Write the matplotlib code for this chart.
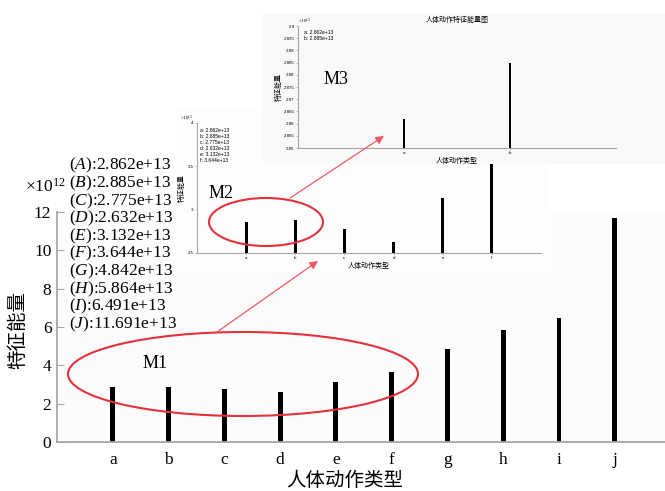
import matplotlib
matplotlib.use("Agg")
import matplotlib.pyplot as plt
from matplotlib.patches import Ellipse

plt.rcParams['font.family'] = ['Liberation Serif', 'Noto Sans CJK SC']
plt.rcParams['mathtext.fontset'] = 'custom'
plt.rcParams['mathtext.rm'] = 'Liberation Serif'
plt.rcParams['mathtext.it'] = 'Liberation Serif:italic'

CJK = ['Noto Sans CJK SC', 'DejaVu Sans']
SANS = ['Liberation Sans', 'DejaVu Sans']

# 人体动作类型与特征能量
actions = ['a', 'b', 'c', 'd', 'e', 'f', 'g', 'h', 'i', 'j']
energy = [2.862, 2.885, 2.775, 2.632, 3.132, 3.644, 4.842, 5.864, 6.491, 11.691]
letters = ['A', 'B', 'C', 'D', 'E', 'F', 'G', 'H', 'I', 'J']

# 局部放大
m2_actions = actions[:6]
m2_energy = energy[:6]
m2_yticks = [2.5, 3, 3.5, 4]
m2_yticklabels = ['2.5', '3', '3.5', '4']

m3_actions = actions[:2]
m3_energy = energy[:2]
m3_yticks = [2.85, 2.855, 2.86, 2.865, 2.87, 2.875, 2.88, 2.885, 2.89, 2.895, 2.9]
m3_yticklabels = ['2.85', '2.855', '2.86', '2.865', '2.87', '2.875', '2.88',
                  '2.885', '2.89', '2.895', '2.9']

W, H = 665, 491
RED = '#e4313c'
GRAY = '#a6a6a6'


def rect(l, t, r, b):
    return [l / W, 1 - b / H, (r - l) / W, (b - t) / H]


def plain_box(fig, r, color):
    bg = fig.add_axes(r)
    bg.set_facecolor(color)
    bg.set_xticks([])
    bg.set_yticks([])
    for s in bg.spines.values():
        s.set_visible(False)
    return bg


def small_axes(fig, r, ys, names, ylim, yt, ytl, xmax, bw):
    ax = fig.add_axes(r)
    ax.set_facecolor('none')
    ax.bar(range(1, len(ys) + 1), [v - ylim[0] for v in ys], bottom=ylim[0],
           width=bw, color='black')
    ax.set_xlim(0, xmax)
    ax.set_ylim(*ylim)
    ax.set_xticks(range(1, len(names) + 1))
    ax.set_xticklabels(names, fontsize=3.2, family=SANS)
    ax.set_yticks(yt)
    ax.set_yticklabels(ytl, fontsize=3.2, family=SANS)
    ax.tick_params(length=1.5, width=0.5, color=GRAY, pad=1)
    ax.spines['top'].set_visible(False)
    ax.spines['right'].set_visible(False)
    for s in ('left', 'bottom'):
        ax.spines[s].set_color(GRAY)
        ax.spines[s].set_linewidth(0.8)
    return ax


fig = plt.figure(figsize=(W / 100, H / 100), dpi=100)

# 主图
ax = fig.add_axes(rect(57, 212, 665, 442))
ax.set_facecolor('#fcfcfc')
ax.bar(range(1, len(energy) + 1), energy, width=0.088, color='black')
ax.set_xlim(0, 10.9)
ax.set_ylim(0, 12)
ax.set_xticks(range(1, len(actions) + 1))
ax.set_xticklabels(actions, fontsize=12.5)
ax.set_yticks(range(0, 13, 2))
ax.tick_params(axis='y', direction='in', length=5, color=GRAY, labelsize=12.5, pad=4)
ax.tick_params(axis='x', length=0, pad=7)
ax.spines['top'].set_visible(False)
ax.spines['right'].set_visible(False)
for s in ('left', 'bottom'):
    ax.spines[s].set_color(GRAY)
    ax.spines[s].set_linewidth(1.3)

fig.text(18 / W, 1 - 330 / H, '特征能量', rotation=90, ha='center', va='center',
         fontsize=14, family=CJK)
fig.text(345 / W, 1 - 481 / H, '人体动作类型', ha='center', va='center',
         fontsize=14, family=CJK)
fig.text(25 / W, 1 - 187 / H, r'×10$^{12}$', ha='left', va='center', fontsize=12.5)

# M2
plain_box(fig, rect(176, 108, 548, 272), '#fdfdfd')
ax2 = small_axes(fig, rect(197, 123, 541, 253), m2_energy, m2_actions,
                 (2.5, 4), m2_yticks, m2_yticklabels, 7, 0.06)
ax2.text(-0.05, 1.0, r'$\times10^{13}$', transform=ax2.transAxes, fontsize=3.5,
         ha='left', va='bottom')
ax2.text(0.01, 0.965, '\n'.join(f'{n}: {v:.3f}e+13' for n, v in zip(m2_actions, m2_energy)),
         transform=ax2.transAxes, fontsize=3.6, family=SANS, va='top', ha='left',
         linespacing=1.25)
ax2.set_xlabel('人体动作类型', fontsize=5, family=CJK, labelpad=1)
ax2.set_ylabel('特征能量', fontsize=5, family=CJK, labelpad=1)

# M3
plain_box(fig, rect(262, 13, 665, 164), '#f9f9f9')
ax3 = small_axes(fig, rect(298, 26, 616, 148), m3_energy, m3_actions,
                 (2.85, 2.9), m3_yticks, m3_yticklabels, 3, 0.028)
ax3.text(0.0, 1.0, r'$\times10^{13}$', transform=ax3.transAxes, fontsize=3.5,
         ha='left', va='bottom')
ax3.text(0.02, 0.97, '\n'.join(f'{n}: {v:.3f}e+13' for n, v in zip(m3_actions, m3_energy)),
         transform=ax3.transAxes, fontsize=3.6, family=SANS, va='top', ha='left',
         linespacing=1.25)
ax3.set_title('人体动作特征能量图', fontsize=5, family=CJK, pad=3)
ax3.set_xlabel('人体动作类型', fontsize=5, family=CJK, labelpad=1)
ax3.set_ylabel('特征能量', fontsize=5, family=CJK, labelpad=1)

# 标注层
ov = fig.add_axes([0, 0, 1, 1])
ov.set_xlim(0, W)
ov.set_ylim(H, 0)
ov.axis('off')

value_list = '\n'.join(f'(${L}$):{v:.3f}e+13' for L, v in zip(letters, energy))
ov.text(69, 245, value_list, fontsize=12.5, ha='left', va='center', linespacing=0.884)

ov.add_patch(Ellipse((243, 374), 350, 84, fill=False, ec=RED, lw=1.5))
ov.add_patch(Ellipse((266, 222), 114, 48, fill=False, ec=RED, lw=1.5))
ov.annotate('', xy=(318, 261), xytext=(217, 332),
            arrowprops=dict(arrowstyle='-|>', color='#ee5a64', lw=0.9,
                            mutation_scale=12, shrinkA=0, shrinkB=0))
ov.annotate('', xy=(384, 136), xytext=(290, 198),
            arrowprops=dict(arrowstyle='-|>', color='#ee5a64', lw=0.9,
                            mutation_scale=12, shrinkA=0, shrinkB=0))
ov.text(155, 363, 'M1', fontsize=13, ha='center', va='center')
ov.text(221, 193, 'M2', fontsize=13, ha='center', va='center')
ov.text(336, 79, 'M3', fontsize=13, ha='center', va='center')

fig.savefig('out.png', dpi=100)
